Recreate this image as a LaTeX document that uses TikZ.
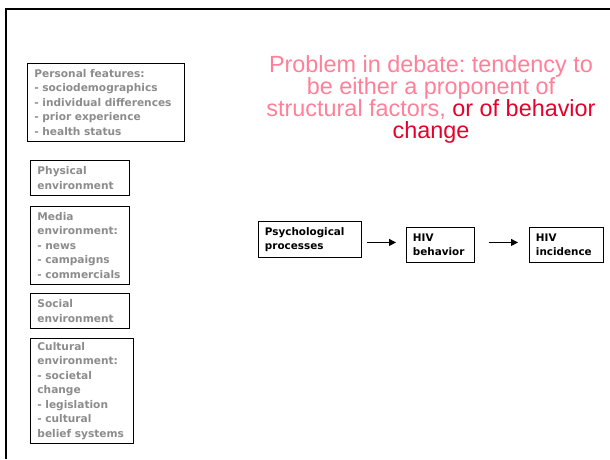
\documentclass[tikz,border=0pt]{standalone}
\usepackage{fontspec}
\usepackage{tikz}
\usepackage{xcolor}
\usetikzlibrary{arrows.meta}
\setmainfont{Liberation Sans}
\newfontfamily\boxfont{DejaVu Sans}
\definecolor{factorgray}{HTML}{8C8C8C}
\definecolor{debatepink}{HTML}{FF8098}
\definecolor{debatered}{HTML}{E6002B}
\tikzset{
        factor_box/.style={draw=black, line width=0.9pt, anchor=north west,
                           align=left, inner xsep=7pt, inner ysep=3pt,
                           text=factorgray,
                           font=\boxfont\bfseries\fontsize{10.6}{14.5}\selectfont},
        stage_box/.style={factor_box, text=black, inner xsep=6.5pt,
                          font=\boxfont\bfseries\fontsize{10.4}{13.5}\selectfont},
        flow_arrow/.style={line width=1pt, -{Triangle[length=7pt, width=7pt]}},
        frame_line/.style={line width=2.5pt, draw=black}
    }

\begin{document}
\frenchspacing
\begin{tikzpicture}[x=1pt, y=-1pt]
    \useasboundingbox (0,0) rectangle (610,459);
    \fill[white] (0,0) rectangle (610,459);
    \draw[frame_line] (6,459) -- (6,9) -- (610,9);

    % factors on the left
    \node[factor_box, text width=143pt, minimum height=78pt] (personal) at (27,63)
        {Personal features:\\- sociodemographics\\- individual differences\\- prior experience\\- health status};
    \node[factor_box, text width=85pt, minimum height=35pt] (physical) at (30,160)
        {Physical\\environment};
    \node[factor_box, text width=85pt, minimum height=78pt] (media) at (30,206)
        {Media\\environment:\\- news\\- campaigns\\- commercials};
    \node[factor_box, text width=85pt, minimum height=35pt] (social) at (30,293)
        {Social\\environment};
    \node[factor_box, text width=89pt, minimum height=105pt] (cultural) at (30,338)
        {Cultural\\environment:\\- societal\\change\\- legislation\\- cultural\\belief systems};

    % causal chain
    \node[stage_box, text width=90pt, minimum height=36pt] (psych) at (258,221)
        {Psychological\\processes};
    \node[stage_box, text width=55pt, minimum height=35pt] (behav) at (406,227)
        {HIV\\behavior};
    \node[stage_box, text width=61pt, minimum height=35pt] (incid) at (529,227)
        {HIV\\incidence};
    \draw[flow_arrow, shorten <=5pt, shorten >=10pt]
        ([yshift=-3pt]psych.east) -- ([yshift=2.5pt]behav.west);
    \draw[flow_arrow, shorten <=14pt, shorten >=11pt]
        ([yshift=2.5pt]behav.east) -- ([yshift=2.5pt]incid.west);

    % debate note
    \node[anchor=north, align=center, inner sep=0pt, text=debatepink,
          font=\fontsize{23.4}{22}\selectfont] (debate) at (431,55)
        {Problem in debate: tendency to\\be either a proponent of\\structural factors, \textcolor{debatered}{or of behavior}\\\textcolor{debatered}{change}};
\end{tikzpicture}
\end{document}
